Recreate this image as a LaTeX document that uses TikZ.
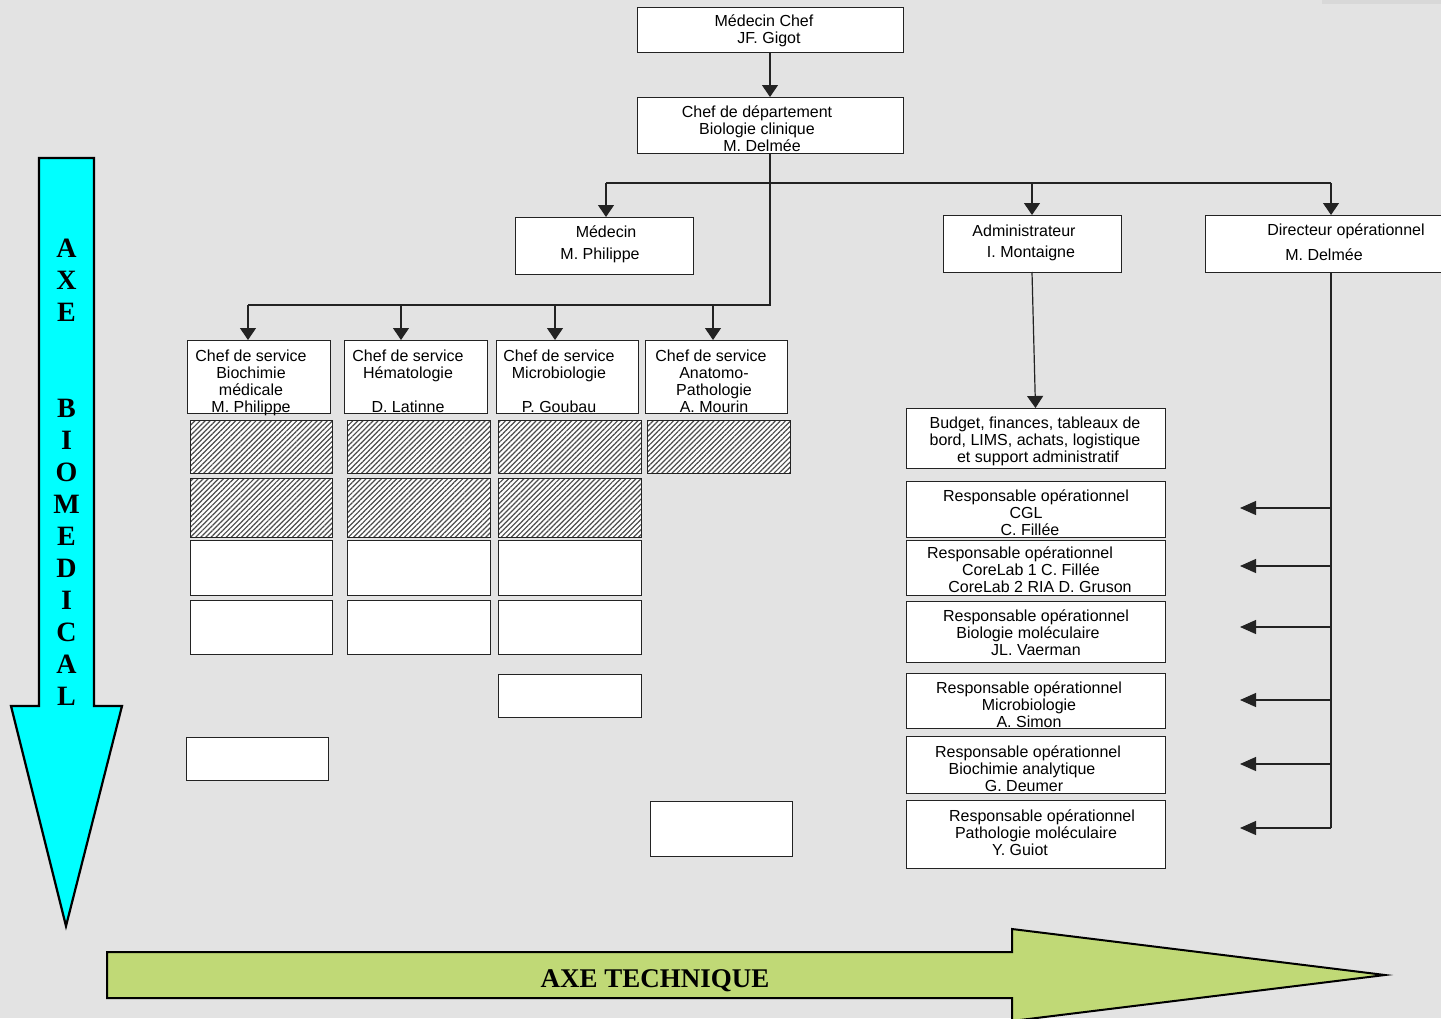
\documentclass[tikz,border=0pt]{standalone}
\usepackage{fontspec}
\setmainfont{Liberation Sans}
\newfontfamily\serifb{Liberation Serif}
\usetikzlibrary{arrows.meta,patterns.meta}
\definecolor{bg}{RGB}{227,227,227}
\definecolor{bgbar}{RGB}{216,216,216}
\definecolor{cyanA}{RGB}{0,255,255}
\definecolor{greenA}{RGB}{192,217,118}
\definecolor{lncol}{RGB}{35,35,35}
\newcommand\bx[6][]{\node[box,#1,minimum width={(#5-#3)*1pt},minimum height={(#6-#4)*1pt}] (#2) at ({(#3+#5)/2},{(#4+#6)/2}) {};}
\newcommand\tx[4]{\node[txt] (#1) at (#2,{#3-13}) {\rule{0pt}{13pt}#4};}
\begin{document}
\begin{tikzpicture}[x=1pt,y=-1pt,
 box/.style={rectangle,draw=lncol,line width=1pt,fill=white,inner sep=0pt,outer sep=0pt},
 hatch/.style={preaction={fill=white},pattern={Lines[angle=45,distance=3.6pt,line width=1.2pt]},pattern color=black!70},
 txt/.style={anchor=north,inner sep=0pt,align=center,font=\fontsize{16}{17}\selectfont},
 ln/.style={draw=lncol,line width=1.2pt},
 arr/.style={ln,-{Triangle[length=12pt,width=16pt]}},
 arl/.style={ln,-{Triangle[length=16pt,width=14pt]}},
]
\useasboundingbox (0,0) rectangle (1441,1018);
\fill[bg] (0,0) rectangle (1441,1018);
\fill[bgbar] (1322,0) rectangle (1441,4);

% axis arrows
\draw[line width=2.2pt,fill=cyanA] (39,158) -- (94,158) -- (94,706) -- (122,706) -- (66,926) -- (11,706) -- (39,706) -- cycle;
\node[anchor=north,inner sep=0pt,align=center,font=\serifb\bfseries\fontsize{28}{32}\selectfont] (axebio) at (66.5,{257.5-22}) {\rule{0pt}{22pt}A\\X\\E\\[64pt]B\\I\\O\\M\\E\\D\\I\\C\\A\\L};
\draw[line width=2pt,fill=greenA] (107,952) -- (1012,952) -- (1012,929) -- (1385,975) -- (1012,1021) -- (1012,998) -- (107,998) -- cycle;
\node[anchor=base,inner sep=0pt,font=\serifb\bfseries\fontsize{27}{30}\selectfont] (axetech) at (655,987) {AXE TECHNIQUE};

% top boxes
\bx{chef}{637}{7}{903}{52}
\tx{chef-t}{764}{26}{Médecin Chef\\\kern10pt JF. Gigot}
\bx{dept}{637}{97}{903}{153}
\tx{dept-t}{757}{117}{Chef de département\\Biologie clinique\\\kern10pt M. Delmée}
\bx{med}{515}{217}{693}{274}
\tx{med-t}{606}{237}{Médecin\\[5pt]M. Philippe\kern12pt}
\bx{adm}{943}{215}{1121}{272}
\tx{adm-t}{1024}{236}{Administrateur\\[4pt]\kern14pt I. Montaigne}
\bx{dir}{1205}{215}{1460}{272}
\tx{dir-t}{1346}{235}{Directeur opérationnel\\[8pt]M. Delmée\kern44pt}

% services
\bx{s1}{187}{340}{330}{413}
\tx{s1-t}{251}{361}{Chef de service\\Biochimie\\médicale\\M. Philippe}
\bx{s2}{344}{340}{487}{413}
\tx{s2-t}{408}{361}{Chef de service\\Hématologie\\[17pt]D. Latinne}
\bx{s3}{496}{340}{638}{413}
\tx{s3-t}{559}{361}{Chef de service\\Microbiologie\\[17pt]P. Goubau}
\bx{s4}{645}{340}{787}{413}
\tx{s4-t}{714}{361}{Chef de service\kern6pt\\Anatomo-\\Pathologie\\A. Mourin}

% hatched and empty boxes
\bx[hatch]{h11}{190}{420}{332}{473}
\bx[hatch]{h12}{347}{420}{490}{473}
\bx[hatch]{h13}{498}{420}{641}{473}
\bx[hatch]{h14}{647}{420}{790}{473}
\bx[hatch]{h21}{190}{478}{332}{537}
\bx[hatch]{h22}{347}{478}{490}{537}
\bx[hatch]{h23}{498}{478}{641}{537}
\bx{e31}{190}{540}{332}{595}
\bx{e32}{347}{540}{490}{595}
\bx{e33}{498}{540}{641}{595}
\bx{e41}{190}{600}{332}{654}
\bx{e42}{347}{600}{490}{654}
\bx{e43}{498}{600}{641}{654}
\bx{e5}{498}{674}{641}{717}
\bx{e6}{186}{737}{328}{780}
\bx{e7}{650}{801}{792}{856}

% right column
\bx{bud}{906}{408}{1165}{468}
\tx{bud-t}{1035}{428}{Budget, finances, tableaux de\\bord, LIMS, achats, logistique\\\kern6pt et support administratif}
\bx{r1}{906}{481}{1165}{537}
\tx{r1-t}{1036}{501}{Responsable opérationnel\\CGL\kern20pt\\C. Fillée\kern12pt}
\bx{r2}{906}{540}{1165}{595}
\tx{r2-t}{1020}{558}{Responsable opérationnel\\\kern22pt CoreLab 1 C. Fillée\\\kern40pt CoreLab 2 RIA D. Gruson}
\bx{r3}{906}{601}{1165}{662}
\tx{r3-t}{1036}{621}{Responsable opérationnel\\Biologie moléculaire\kern16pt\\JL. Vaerman}
\bx{r4}{906}{673}{1165}{728}
\tx{r4-t}{1029}{693}{Responsable opérationnel\\Microbiologie\\A. Simon}
\bx{r5}{906}{736}{1165}{793}
\tx{r5-t}{1028}{757}{Responsable opérationnel\\Biochimie analytique\kern12pt\\G. Deumer\kern8pt}
\bx{r6}{906}{800}{1165}{868}
\tx{r6-t}{1042}{821}{Responsable opérationnel\\Pathologie moléculaire\kern12pt\\Y. Guiot\kern44pt}

% connectors
\coordinate (hm) at (606,183);
\coordinate (hd) at (1331,183);
\coordinate (b1) at (248,305);
\coordinate (b2) at (401,305);
\coordinate (b3) at (555,305);
\coordinate (b4) at (713,305);
\coordinate (dt) at (1331,828);
\coordinate (a1) at (1240,508);
\coordinate (a2) at (1240,566);
\coordinate (a3) at (1240,627);
\coordinate (a4) at (1240,700);
\coordinate (a5) at (1240,764);
\coordinate (a6) at (1240,828);

\draw[arr] (chef.south) -- (dept.north);
\draw[ln] (dept.south) |- (b1);
\draw[arr] (b1) -- (b1 |- s1.north);
\draw[arr] (b2) -- (b2 |- s2.north);
\draw[arr] (b3) -- (b3 |- s3.north);
\draw[arr] (b4) -- (b4 |- s4.north);
\draw[ln] (hm) -- (hd);
\draw[arr] (hm) -- (hm |- med.north);
\draw[arr] (hm -| adm.north) -- (adm.north);
\draw[arr] (hd) -- (hd |- dir.north);
\draw[arr] (adm.south) -- (bud.north);
\draw[ln] (hd |- dir.south) -- (dt);
\foreach \i in {1,...,6} {\draw[arl] (a\i -| dt) -- (a\i);}
\end{tikzpicture}
\end{document}
